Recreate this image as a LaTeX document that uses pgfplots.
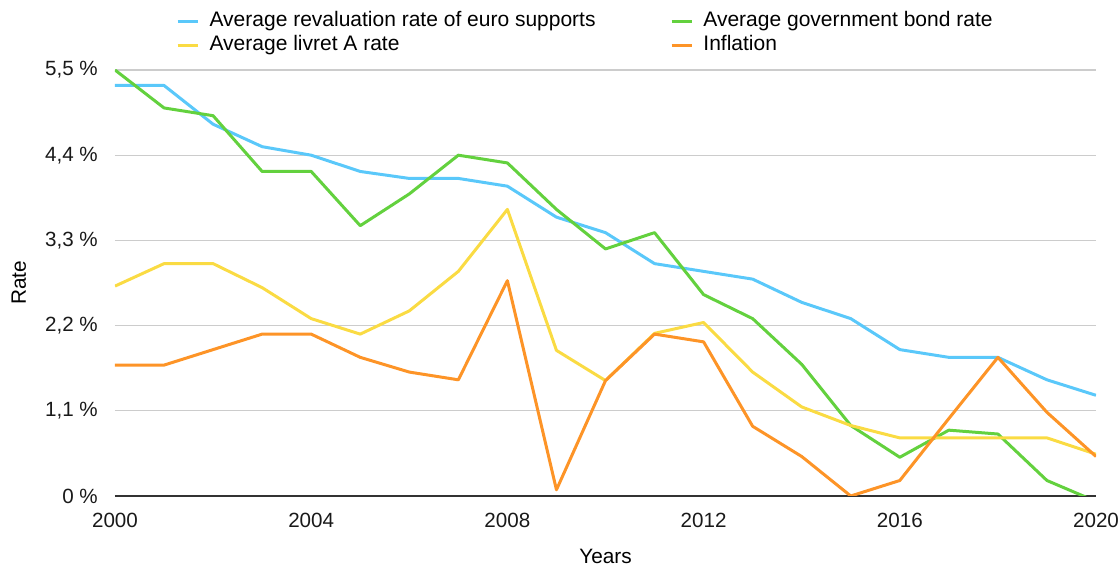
\documentclass[border=0pt]{standalone}
\usepackage{fontspec}
\setmainfont{Liberation Sans}
\usepackage{pgfplots}
\pgfplotsset{compat=1.18}
\definecolor{cblue}{HTML}{5AC8FA}
\definecolor{cgreen}{HTML}{63D13E}
\definecolor{cyellow}{HTML}{FADB43}
\definecolor{corange}{HTML}{FD9427}
\begin{document}
\fontsize{10.2}{12}\selectfont
\begin{tikzpicture}
\path[use as bounding box] (-57.5pt,-35.5pt) rectangle (502.5pt,248pt);
\begin{axis}[
  at={(0,0)}, anchor=south west,
  scale only axis, width=490.5pt, height=213pt,
  xmin=2000, xmax=2020, ymin=0, ymax=5.5,
  separate axis lines,
  axis x line*=bottom, axis y line*=left,
  y axis line style={draw=none},
  x axis line style={draw=black!80, line width=0.6pt, -},
  major tick length=0pt,
  ymajorgrids, grid style={draw=black!20, line width=0.6pt},
  xtick={2000,2004,2008,2012,2016,2020},
  xticklabels={2000,2004,2008,2012,2016,2020},
  ytick={0,1.1,2.2,3.3,4.4,5.5},
  yticklabels={0 \%,{1,1 \%},{2,2 \%},{3,3 \%},{4,4 \%},{5,5 \%}},
  /pgf/number format/assume math mode=true,
  /pgf/number format/1000 sep={},
  tick label style={font=\fontsize{10.3}{12}\selectfont, text=black!90},
  yticklabel style={xshift=-5pt},
  xticklabel style={yshift=-5pt},
  xlabel={Years}, ylabel={Rate},
  label style={font=\fontsize{10.4}{12}\selectfont},
  xlabel style={at={(axis description cs:0.5,-0.142)}, anchor=center},
  ylabel style={at={(axis description cs:-0.098,0.5)}, anchor=center, rotate=0},
  legend columns=2,
  legend cell align=left,
  legend image code/.code={\draw[#1, line width=1.5pt] (0pt,0pt) -- (10pt,0pt);},
  legend style={draw=none, fill=none, inner sep=0pt,
    at={(axis description cs:0.062,1.143)}, anchor=north west,
    font=\fontsize{10.5}{12}\selectfont,
    nodes={inner sep=1.2pt, text height=7.5pt, text depth=2pt},
    /tikz/every odd column/.style={column sep=4pt},
    /tikz/column 2/.style={column sep=36pt}},
  every axis plot/.append style={line width=1.5pt, line join=round, mark=none},
]
\addplot[cblue] coordinates {
(2000,5.30) (2001,5.30) (2002,4.80) (2003,4.51) (2004,4.40) (2005,4.19) (2006,4.10)
(2007,4.10) (2008,4.00) (2009,3.60) (2010,3.40) (2011,3.00) (2012,2.90) (2013,2.80)
(2014,2.50) (2015,2.29) (2016,1.89) (2017,1.79) (2018,1.79) (2019,1.50) (2020,1.30)};
\addlegendentry{Average revaluation rate of euro supports}
\addplot[cgreen] coordinates {
(2000,5.50) (2001,5.01) (2002,4.91) (2003,4.19) (2004,4.19) (2005,3.49) (2006,3.90)
(2007,4.40) (2008,4.30) (2009,3.70) (2010,3.19) (2011,3.40) (2012,2.60) (2013,2.29)
(2014,1.70) (2015,0.91) (2016,0.50) (2017,0.85) (2018,0.80) (2019,0.20) (2020,-0.07)};
\addlegendentry{Average government bond rate}
\addplot[cyellow] coordinates {
(2000,2.71) (2001,3.00) (2002,3.00) (2003,2.69) (2004,2.29) (2005,2.09) (2006,2.39)
(2007,2.90) (2008,3.70) (2009,1.88) (2010,1.49) (2011,2.10) (2012,2.24) (2013,1.60)
(2014,1.15) (2015,0.91) (2016,0.75) (2017,0.75) (2018,0.75) (2019,0.75) (2020,0.54)};
\addlegendentry{Average livret A rate}
\addplot[corange] coordinates {
(2000,1.69) (2001,1.69) (2002,1.89) (2003,2.09) (2004,2.09) (2005,1.79) (2006,1.60)
(2007,1.50) (2008,2.78) (2009,0.08) (2010,1.49) (2011,2.09) (2012,1.99) (2013,0.90)
(2014,0.51) (2015,0.00) (2016,0.20) (2017,1.00) (2018,1.79) (2019,1.08) (2020,0.51)};
\addlegendentry{Inflation}
\end{axis}
\end{tikzpicture}
\end{document}
